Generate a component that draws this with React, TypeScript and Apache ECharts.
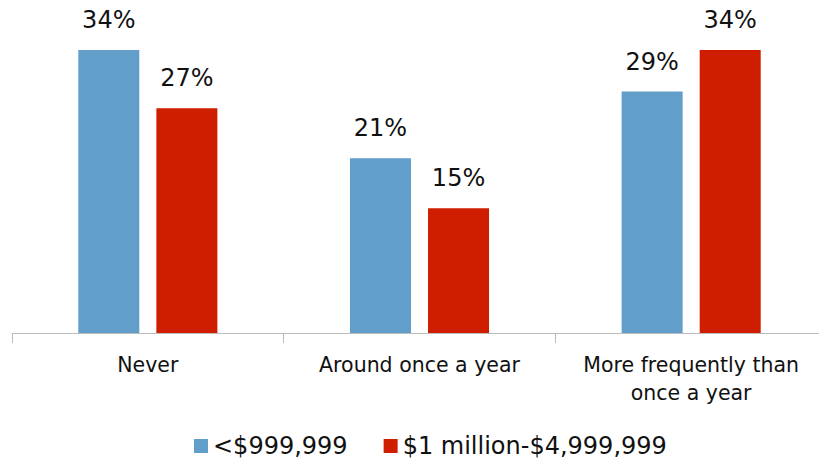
import React, { useEffect, useRef } from "react";
import * as echarts from "echarts";

const categories = ["Never", "Around once a year", "More frequently than\nonce a year"];
const seriesNames = ["<$999,999", "$1 million-$4,999,999"];
const smallValues = [34, 21, 29];
const largeValues = [27, 15, 34];
const colors = ["#619ECA", "#CF1D00"];

export default function App() {
  const ref = useRef<HTMLDivElement>(null);
  useEffect(() => {
    const chart = echarts.init(ref.current!, null, { renderer: "svg" });
    const font = "DejaVu Sans";
    const label = {
      show: true,
      position: "top" as const,
      distance: 18,
      formatter: "{c}%",
      fontSize: 24,
      color: "#111",
      fontFamily: font,
    };
    chart.setOption({
      animation: false,
      textStyle: { fontFamily: font },
      grid: { left: 12, top: 50, width: 822, height: 283, containLabel: false },
      legend: {
        bottom: 3,
        left: 189,
        itemWidth: 14,
        itemHeight: 14,
        itemGap: 36,
        icon: "rect",
        textStyle: { fontSize: 24, color: "#111", fontFamily: font },
        data: seriesNames,
      },
      xAxis: {
        type: "category",
        data: categories,
        axisLine: { lineStyle: { color: "#bbb", width: 1 } },
        axisTick: { show: true, length: 10, lineStyle: { color: "#bbb" } },
        axisLabel: { fontSize: 20.5, color: "#111", margin: 18, lineHeight: 28, fontFamily: font, interval: 0 },
      },
      yAxis: { type: "value", min: 0, max: 34, show: false, splitLine: { show: false } },
      series: [
        { name: seriesNames[0], type: "bar", data: smallValues, barWidth: 61, barGap: "28%", itemStyle: { color: colors[0] }, label },
        { name: seriesNames[1], type: "bar", data: largeValues, barWidth: 61, barGap: "28%", itemStyle: { color: colors[1] }, label },
      ],
    });
    return () => chart.dispose();
  }, []);
  return <div ref={ref} style={{ width: 827, height: 466, marginLeft: -8, marginTop: -8 }} />;
}
